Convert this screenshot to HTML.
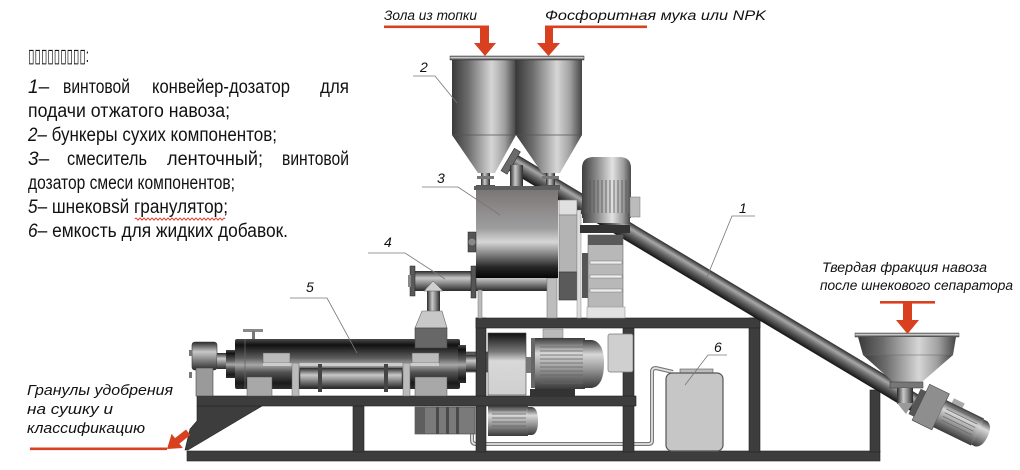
<!DOCTYPE html>
<html><head><meta charset="utf-8">
<style>
html,body{margin:0;padding:0;background:#fff;}
svg{display:block;}
.lg{font-family:"Liberation Sans","DejaVu Sans",sans-serif;font-size:19px;fill:#111;}
.it{font-family:"Liberation Sans","DejaVu Sans",sans-serif;font-style:italic;fill:#111;}
</style></head><body>
<svg width="1020" height="470" viewBox="0 0 1020 470" xmlns="http://www.w3.org/2000/svg">
<defs>
<linearGradient id="hop" x1="0" y1="0" x2="1" y2="0">
<stop offset="0" stop-color="#3a3a3a"/><stop offset=".25" stop-color="#6c6c6c"/><stop offset=".62" stop-color="#d6d6d6"/><stop offset=".82" stop-color="#a0a0a0"/><stop offset="1" stop-color="#454545"/>
</linearGradient>
<linearGradient id="tube" x1="0" y1="0" x2="0" y2="1">
<stop offset="0" stop-color="#2a2a2a"/><stop offset=".3" stop-color="#a8a8a8"/><stop offset=".55" stop-color="#6a6a6a"/><stop offset="1" stop-color="#141414"/>
</linearGradient>
<linearGradient id="gran" x1="0" y1="0" x2="0" y2="1">
<stop offset="0" stop-color="#4a4a4a"/><stop offset=".12" stop-color="#111"/><stop offset=".38" stop-color="#5c5c5c"/><stop offset=".52" stop-color="#a8a8a8"/><stop offset=".66" stop-color="#555"/><stop offset=".88" stop-color="#1a1a1a"/><stop offset="1" stop-color="#2e2e2e"/>
</linearGradient>
<linearGradient id="mix" x1="0" y1="0" x2="0" y2="1">
<stop offset="0" stop-color="#7a7474"/><stop offset=".45" stop-color="#9e9e9e"/><stop offset=".6" stop-color="#d6d6d6"/><stop offset=".72" stop-color="#8c8c8c"/><stop offset=".88" stop-color="#262626"/><stop offset="1" stop-color="#050505"/>
</linearGradient>
<linearGradient id="cyl" x1="0" y1="0" x2="0" y2="1">
<stop offset="0" stop-color="#2a2a2a"/><stop offset=".35" stop-color="#c8c8c8"/><stop offset=".55" stop-color="#9a9a9a"/><stop offset="1" stop-color="#2a2a2a"/>
</linearGradient>
<linearGradient id="cylv" x1="0" y1="0" x2="1" y2="0">
<stop offset="0" stop-color="#2a2a2a"/><stop offset=".4" stop-color="#c8c8c8"/><stop offset=".6" stop-color="#9a9a9a"/><stop offset="1" stop-color="#2a2a2a"/>
</linearGradient>
<linearGradient id="mot" x1="0" y1="0" x2="0" y2="1">
<stop offset="0" stop-color="#3a3a3a"/><stop offset=".3" stop-color="#d8d8d8"/><stop offset=".6" stop-color="#9a9a9a"/><stop offset="1" stop-color="#3a3a3a"/>
</linearGradient>
<linearGradient id="motv" x1="0" y1="0" x2="1" y2="0">
<stop offset="0" stop-color="#3e3e3e"/><stop offset=".3" stop-color="#8a8a8a"/><stop offset=".62" stop-color="#e2e2e2"/><stop offset=".85" stop-color="#9a9a9a"/><stop offset="1" stop-color="#4a4a4a"/>
</linearGradient>
<linearGradient id="pul" x1="0" y1="0" x2="0" y2="1">
<stop offset="0" stop-color="#111"/><stop offset=".3" stop-color="#777"/><stop offset=".45" stop-color="#d8d8d8"/><stop offset="1" stop-color="#cfcfcf"/>
</linearGradient>
</defs>

<!-- LEGEND -->
<text class="lg" x="28" y="62" textLength="61" lengthAdjust="spacingAndGlyphs">▯▯▯▯▯▯▯▯▯:</text>
<text class="lg" x="28" y="93"><tspan font-style="italic">1</tspan>–</text>
<text class="lg" x="63" y="93" textLength="67" lengthAdjust="spacingAndGlyphs">винтовой</text>
<text class="lg" x="152" y="93" textLength="138" lengthAdjust="spacingAndGlyphs">конвейер-дозатор</text>
<text class="lg" x="320" y="93" textLength="29" lengthAdjust="spacingAndGlyphs">для</text>
<text class="lg" x="28" y="117" textLength="202" lengthAdjust="spacingAndGlyphs">подачи отжатого навоза;</text>
<text class="lg" x="28" y="141" textLength="249" lengthAdjust="spacingAndGlyphs"><tspan font-style="italic">2</tspan>– бункеры сухих компонентов;</text>
<text class="lg" x="28" y="165"><tspan font-style="italic">3</tspan>–</text>
<text class="lg" x="67" y="165" textLength="80" lengthAdjust="spacingAndGlyphs">смеситель</text>
<text class="lg" x="167" y="165" textLength="96" lengthAdjust="spacingAndGlyphs">ленточный;</text>
<text class="lg" x="282" y="165" textLength="67" lengthAdjust="spacingAndGlyphs">винтовой</text>
<text class="lg" x="28" y="189" textLength="207" lengthAdjust="spacingAndGlyphs">дозатор смеси компонентов;</text>
<text class="lg" x="28" y="213" textLength="200" lengthAdjust="spacingAndGlyphs"><tspan font-style="italic">5</tspan>– шнековsй гранулятор;</text>
<path d="M135 219 q1 -2 2 0 t2 0 t2 0 t2 0 t2 0 t2 0 t2 0 t2 0 t2 0 t2 0 t2 0 t2 0 t2 0 t2 0 t2 0 t2 0 t2 0 t2 0 t2 0 t2 0 t2 0 t2 0 t2 0 t2 0 t2 0 t2 0 t2 0 t2 0 t2 0 t2 0 t2 0 t2 0 t2 0 t2 0 t2 0 t2 0 t2 0 t2 0 t2 0 t2 0 t2 0 t2 0 t2 0 t2 0 t2 0" fill="none" stroke="#e0302a" stroke-width="1"/>
<text class="lg" x="28" y="237" textLength="260" lengthAdjust="spacingAndGlyphs"><tspan font-style="italic">6</tspan>– емкость для жидких добавок.</text>

<!-- items behind frame -->
<rect x="460" y="352" width="28" height="20" fill="#5a5a5a" stroke="#333" stroke-width=".6"/>
<path d="M673 372 L656 368 Q652 368 652 372 L652 441 Q652 444 648 444 L476 444 Q472 444 472 440 L472 424" fill="none" stroke="#777" stroke-width="4"/>
<path d="M673 372 L656 368 Q652 368 652 372 L652 441 Q652 444 648 444 L476 444 Q472 444 472 440 L472 424" fill="none" stroke="#e2e2e2" stroke-width="1.8"/>

<!-- FRAME -->
<g fill="#3d3d3d" stroke="#222" stroke-width=".6">
<rect x="187" y="451" width="693" height="10"/>
<polygon points="197,406 262,406 188,450 185,450 190,429 197,421"/>
<rect x="353" y="406" width="11" height="46"/>
<rect x="476" y="318" width="10" height="134"/>
<rect x="623" y="328" width="11" height="124"/>
<rect x="749" y="318" width="11" height="134"/>
<rect x="870" y="390" width="10" height="62"/>
<rect x="476" y="318" width="284" height="10"/>
<rect x="197" y="396" width="439" height="10"/>
</g>

<!-- Conveyor tube 1 -->
<g transform="translate(512,162) rotate(30.88)">
<rect x="0" y="-9" width="470" height="18" fill="url(#tube)"/>
<rect x="-5" y="-13" width="7" height="26" fill="#6a6a6a" stroke="#333" stroke-width=".6"/>
</g>

<!-- Hoppers 2 -->
<rect x="510" y="165" width="13" height="23" fill="url(#cylv)"/>
<rect x="452" y="59" width="64" height="76" fill="url(#hop)"/>
<polygon points="452,135 516,135 495,173 478,173" fill="url(#hop)"/>
<rect x="516" y="59" width="66" height="76" fill="url(#hop)"/>
<polygon points="516,135 582,135 560,173 542,173" fill="url(#hop)"/>
<line x1="452" y1="135" x2="582" y2="135" stroke="#555" stroke-width=".8"/>
<line x1="516" y1="59" x2="516" y2="135" stroke="#333" stroke-width=".8"/>
<rect x="450" y="56" width="134" height="4" fill="url(#mot)" stroke="#333" stroke-width=".5"/>
<rect x="481" y="173" width="9" height="14" fill="url(#cylv)"/>
<rect x="477" y="176" width="17" height="3" fill="#777"/>
<rect x="476" y="185" width="19" height="3" fill="#555"/>
<rect x="546" y="173" width="9" height="14" fill="url(#cylv)"/>
<rect x="542" y="176" width="17" height="3" fill="#777"/>
<rect x="541" y="185" width="19" height="3" fill="#555"/>

<!-- Pipe 4 -->
<rect x="413" y="271" width="135" height="20" fill="url(#cyl)"/>
<rect x="410" y="266" width="5" height="30" fill="#5a5a5a" stroke="#222" stroke-width=".5"/>
<rect x="408" y="275" width="3" height="12" fill="#888"/>
<rect x="471" y="266" width="5" height="32" fill="#555" stroke="#222" stroke-width=".5"/>
<rect x="427" y="287" width="13" height="25" fill="url(#cylv)"/>
<polygon points="424,291 433,281 443,291" fill="#cfcfcf" stroke="#555" stroke-width=".5"/>

<!-- panel behind mixer -->
<rect x="559" y="200" width="18" height="15" fill="#e0e0e0" stroke="#777" stroke-width=".6"/>
<rect x="559" y="215" width="18" height="57" fill="#b4b4b4" stroke="#777" stroke-width=".6"/>
<rect x="559" y="272" width="18" height="28" fill="#5a5a5a" stroke="#333" stroke-width=".6"/>
<rect x="577" y="210" width="4" height="108" fill="#ddd" stroke="#888" stroke-width=".5"/>
<rect x="582" y="253" width="6" height="45" fill="#555"/>
<rect x="547" y="278" width="10" height="40" fill="#bdbdbd" stroke="#777" stroke-width=".6"/>
<rect x="478" y="290" width="4" height="28" fill="#bbb" stroke="#777" stroke-width=".5"/>

<!-- Mixer 3 -->
<rect x="476" y="188" width="82" height="90" fill="url(#mix)"/>
<rect x="474" y="186" width="86" height="4" fill="#5e5e5e"/>
<rect x="468" y="232" width="8" height="20" fill="#555" stroke="#222" stroke-width=".5"/>
<circle cx="472" cy="242" r="4" fill="#888" stroke="#333" stroke-width=".5"/>

<!-- Top motor + gearbox -->
<rect x="588" y="235" width="35" height="73" fill="#b8b8b8" stroke="#666" stroke-width=".6"/>
<rect x="588" y="235" width="35" height="10" fill="#5a5a5a"/>
<rect x="590" y="261" width="32" height="3" fill="#eee" stroke="#777" stroke-width=".5"/>
<rect x="590" y="275" width="32" height="3" fill="#eee" stroke="#777" stroke-width=".5"/>
<rect x="590" y="289" width="32" height="3" fill="#eee" stroke="#777" stroke-width=".5"/>
<rect x="587" y="307" width="38" height="11" fill="#e2e2e2" stroke="#999" stroke-width=".6"/>
<rect x="580" y="225" width="50" height="8" fill="#333"/>
<rect x="582" y="178" width="49" height="40" fill="url(#motv)"/>
<g stroke="#555" stroke-width=".8">
<line x1="586" y1="180" x2="586" y2="213"/><line x1="590" y1="180" x2="590" y2="213"/><line x1="594" y1="180" x2="594" y2="213"/><line x1="598" y1="180" x2="598" y2="213"/><line x1="602" y1="180" x2="602" y2="213"/><line x1="606" y1="180" x2="606" y2="213"/><line x1="610" y1="180" x2="610" y2="213"/><line x1="614" y1="180" x2="614" y2="213"/><line x1="618" y1="180" x2="618" y2="213"/><line x1="622" y1="180" x2="622" y2="213"/><line x1="626" y1="180" x2="626" y2="213"/>
</g>
<path d="M582 180 L582 168 Q582 157 594 157 L619 157 Q631 157 631 168 L631 180 Z" fill="url(#motv)"/>
<rect x="583" y="213" width="47" height="10" fill="url(#motv)"/>
<rect x="630" y="197" width="10" height="20" fill="#bbb" stroke="#777" stroke-width=".5"/>

<!-- Lower drive -->
<rect x="488" y="333" width="38" height="62" fill="url(#pul)" stroke="#444" stroke-width=".6"/>
<rect x="526" y="357" width="6" height="16" fill="#777"/>
<rect x="531" y="338" width="5" height="50" fill="#666"/>
<rect x="543" y="329" width="20" height="9" fill="#bbb" stroke="#777" stroke-width=".5"/>
<rect x="535" y="338" width="50" height="51" fill="url(#mot)"/>
<g stroke="#666" stroke-width=".8">
<line x1="540" y1="343" x2="583" y2="343"/><line x1="540" y1="347" x2="583" y2="347"/><line x1="540" y1="351" x2="583" y2="351"/><line x1="540" y1="355" x2="583" y2="355"/><line x1="540" y1="359" x2="583" y2="359"/><line x1="540" y1="363" x2="583" y2="363"/><line x1="540" y1="367" x2="583" y2="367"/><line x1="540" y1="371" x2="583" y2="371"/><line x1="540" y1="375" x2="583" y2="375"/><line x1="540" y1="379" x2="583" y2="379"/><line x1="540" y1="383" x2="583" y2="383"/>
</g>
<path d="M583 340 L592 340 Q604 342 604 363 Q604 386 592 388 L583 388 Z" fill="url(#mot)"/>
<rect x="530" y="389" width="45" height="7" fill="#333"/>
<rect x="608" y="334" width="25" height="38" rx="2" fill="#cfcfcf" stroke="#777" stroke-width=".7"/>

<rect x="415" y="407" width="60" height="27" fill="#7a7a7a" stroke="#444" stroke-width=".6"/>
<rect x="415" y="407" width="10" height="27" fill="#5e5e5e"/>
<rect x="436" y="407" width="3" height="27" fill="#4a4a4a"/>
<rect x="446" y="407" width="3" height="27" fill="#4a4a4a"/>
<rect x="456" y="407" width="3" height="27" fill="#4a4a4a"/>
<rect x="488" y="406" width="40" height="30" fill="url(#mot)"/>
<g stroke="#666" stroke-width=".8">
<line x1="492" y1="410" x2="526" y2="410"/><line x1="492" y1="414" x2="526" y2="414"/><line x1="492" y1="418" x2="526" y2="418"/><line x1="492" y1="422" x2="526" y2="422"/><line x1="492" y1="426" x2="526" y2="426"/><line x1="492" y1="430" x2="526" y2="430"/>
</g>
<path d="M528 407 L532 407 Q538 408 538 421 Q538 434 532 435 L528 435 Z" fill="url(#mot)"/>

<!-- Tank 6 -->
<rect x="680" y="369" width="33" height="5" fill="#bbb" stroke="#555" stroke-width=".6"/>
<rect x="666" y="373" width="57" height="78" rx="6" fill="#c6c6c6" stroke="#555" stroke-width="1.2"/>

<!-- Granulator 5 -->
<rect x="192" y="342" width="25" height="28" rx="3" fill="url(#cyl)" stroke="#333" stroke-width=".6"/>
<rect x="196" y="368" width="17" height="28" fill="#9a9a9a" stroke="#444" stroke-width=".6"/>
<rect x="189" y="350" width="3" height="6" fill="#777"/><rect x="189" y="372" width="3" height="6" fill="#777"/>
<rect x="217" y="353" width="10" height="16" fill="url(#cyl)"/>
<rect x="226" y="350" width="10" height="28" fill="url(#gran)"/>
<rect x="235" y="339" width="225" height="50" rx="2" fill="url(#gran)"/>
<line x1="245" y1="339" x2="245" y2="389" stroke="#666" stroke-width=".8"/>
<rect x="458" y="345" width="8" height="38" fill="url(#gran)"/>
<rect x="466" y="355" width="10" height="16" fill="url(#cyl)"/>
<rect x="243" y="329" width="20" height="3" fill="#888"/>
<rect x="252" y="331" width="3" height="8" fill="#777"/>
<rect x="263" y="353" width="27" height="10" fill="#bbb" stroke="#555" stroke-width=".5"/>
<rect x="412" y="353" width="27" height="10" fill="#bbb" stroke="#555" stroke-width=".5"/>
<rect x="263" y="363" width="176" height="3" fill="#ccc"/>
<rect x="300" y="368" width="102" height="20" fill="url(#cyl)" stroke="#333" stroke-width=".5"/>
<rect x="318" y="364" width="4" height="28" fill="#444"/>
<rect x="384" y="364" width="4" height="28" fill="#444"/>
<rect x="292" y="363" width="7" height="33" fill="#bbb" stroke="#666" stroke-width=".5"/>
<rect x="403" y="363" width="7" height="33" fill="#bbb" stroke="#666" stroke-width=".5"/>
<rect x="247" y="377" width="25" height="19" fill="#a8a8a8" stroke="#555" stroke-width=".5"/>
<rect x="415" y="377" width="32" height="19" fill="#a8a8a8" stroke="#555" stroke-width=".5"/>
<polygon points="422,311 442,311 447,328 415,328" fill="#c8c8c8" stroke="#666" stroke-width=".6"/>
<rect x="415" y="328" width="32" height="20" fill="#676767" stroke="#444" stroke-width=".6"/>

<!-- Bottom right hopper + drive -->
<rect x="855" y="333" width="104" height="4" fill="url(#mot)" stroke="#444" stroke-width=".5"/>
<polygon points="858,337 956,337 953,355 863,355" fill="url(#hop)"/>
<polygon points="863,355 953,355 922,382 893,382" fill="url(#hop)"/>
<line x1="863" y1="355" x2="953" y2="355" stroke="#666" stroke-width=".6"/>
<rect x="890" y="382" width="33" height="6" fill="#777" stroke="#333" stroke-width=".5"/>
<rect x="897" y="388" width="16" height="16" fill="url(#cylv)"/>
<polygon points="897,403 913,403 906,414" fill="#999"/>
<g transform="translate(920,404) rotate(26)">
<rect x="-6" y="-14" width="6" height="28" fill="#555"/>
<rect x="0" y="-22" width="22" height="40" fill="#8e8e8e" stroke="#444" stroke-width=".6"/>
<rect x="28" y="-20" width="12" height="5" fill="#aaa"/>
<rect x="22" y="-15" width="42" height="30" fill="url(#mot)"/>
<g stroke="#666" stroke-width=".7">
<line x1="26" y1="-11" x2="60" y2="-11"/><line x1="26" y1="-7" x2="60" y2="-7"/><line x1="26" y1="-3" x2="60" y2="-3"/><line x1="26" y1="1" x2="60" y2="1"/><line x1="26" y1="5" x2="60" y2="5"/><line x1="26" y1="9" x2="60" y2="9"/>
</g>
<path d="M64 -14 L68 -14 Q75 -12 75 0 Q75 12 68 14 L64 14 Z" fill="url(#mot)"/>
</g>

<!-- Leader lines -->
<g stroke="#777" stroke-width=".8" fill="none">
<polyline points="413,76 435,76 457,103"/>
<polyline points="422,187 458,187 500,215"/>
<polyline points="368,253 405,253 445,279"/>
<polyline points="290,298 327,298 357,353"/>
<polyline points="755,216 732,216 707,277"/>
<polyline points="727,355 708,355 685,385"/>
</g>
<g class="it" font-size="14">
<text x="420" y="72">2</text>
<text x="437" y="183">3</text>
<text x="384" y="247">4</text>
<text x="306" y="292">5</text>
<text x="739" y="213">1</text>
<text x="714" y="352">6</text>
</g>

<!-- Red arrows -->
<g fill="#d8401f">
<rect x="384" y="25.5" width="105" height="2.6"/>
<rect x="480" y="26" width="9" height="18"/>
<polygon points="474,43 496,43 485,56"/>
<rect x="545" y="25.5" width="102" height="2.6"/>
<rect x="545" y="26" width="8" height="18"/>
<polygon points="537,43 560,43 548.5,56"/>
<rect x="880" y="301" width="55" height="2.6"/>
<rect x="903" y="302" width="9" height="18"/>
<polygon points="896,320 919,320 907.5,334"/>
<rect x="30" y="447.5" width="137" height="2.6"/>
<polygon transform="translate(167,449) rotate(141.6)" points="0,0 -13,-9 -13,-3.5 -27,-3.5 -27,3.5 -13,3.5 -13,9"/>
</g>

<!-- Italic labels -->
<g class="it" font-size="13.5">
<text x="384" y="20" textLength="93" lengthAdjust="spacingAndGlyphs">Зола из топки</text>
<text x="545" y="20" textLength="221" lengthAdjust="spacingAndGlyphs">Фосфоритная мука или NPK</text>
<text x="822" y="272" textLength="165" lengthAdjust="spacingAndGlyphs">Твердая фракция навоза</text>
<text x="820" y="290" textLength="193" lengthAdjust="spacingAndGlyphs">после шнекового сепаратора</text>
</g>
<g class="it" font-size="14.5">
<text x="27" y="395" textLength="146" lengthAdjust="spacingAndGlyphs">Гранулы удобрения</text>
<text x="27" y="414" textLength="86" lengthAdjust="spacingAndGlyphs">на сушку и</text>
<text x="27" y="433" textLength="118" lengthAdjust="spacingAndGlyphs">классификацию</text>
</g>
</svg>
</body></html>
